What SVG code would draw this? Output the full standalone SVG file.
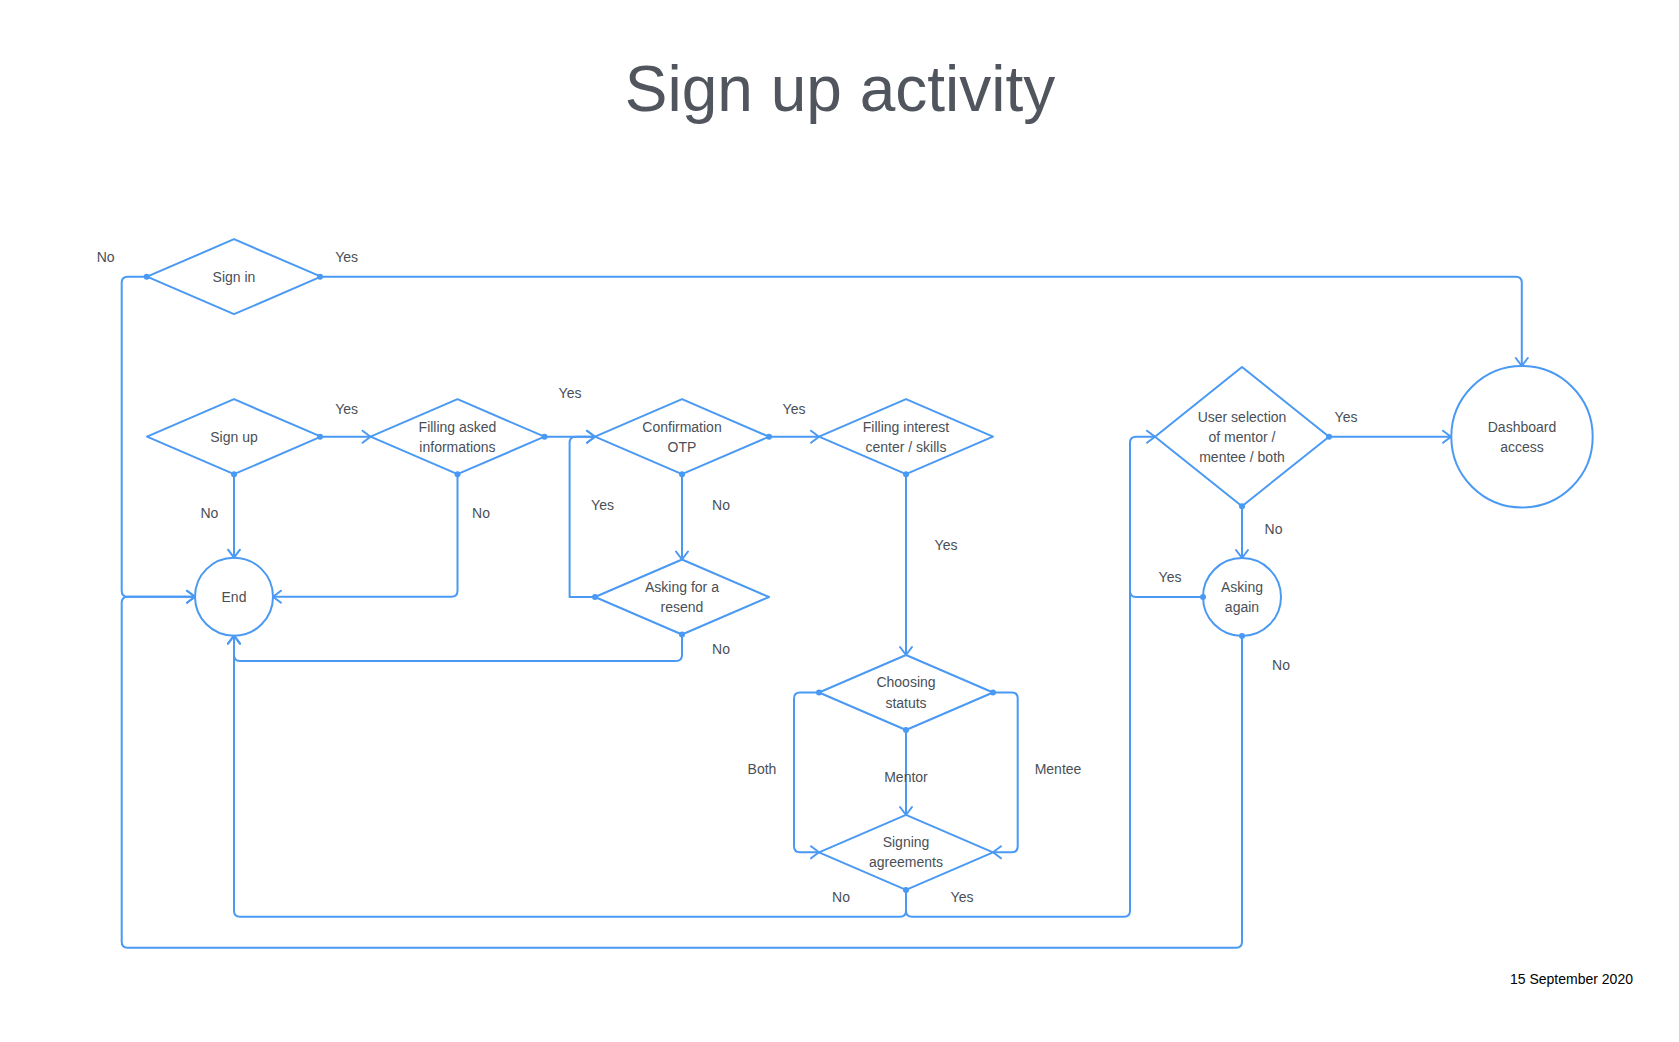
<svg xmlns="http://www.w3.org/2000/svg" width="1679" height="1042" viewBox="0 0 1679 1042">
<style>
.shape{fill:none;stroke:#4a99f3;stroke-width:2;stroke-linejoin:round}
.edge{fill:none;stroke:#4a99f3;stroke-width:2;stroke-linejoin:round}
.arr{marker-end:url(#arrow)}
.dot{fill:#4a99f3}
.t{font-family:"Liberation Sans",Arial,sans-serif;font-size:14px;fill:#4a4f57;text-anchor:middle}
.title{font-family:"Liberation Sans",Arial,sans-serif;font-size:64px;fill:#50555e;text-anchor:middle}
.date{font-family:"Liberation Sans",Arial,sans-serif;font-size:14px;fill:#000000;text-anchor:middle}
</style>
<defs>
<marker id="arrow" viewBox="-10 -8 12 16" refX="0" refY="0" markerWidth="12" markerHeight="16" markerUnits="userSpaceOnUse" orient="auto">
<path d="M-8,-6 L0,0 L-8,6" fill="none" stroke="#4a99f3" stroke-width="2" stroke-linejoin="round" stroke-linecap="round"/>
</marker>
</defs>
<rect width="1679" height="1042" fill="#ffffff"/>
<text class="title" x="840" y="111">Sign up activity</text>
<text class="date" x="1571.5" y="984">15 September 2020</text>

<g id="connectors">
<path class="edge arr" d="M320,276.7 H1515.8 Q1521.8,276.7 1521.8,282.7 V366"/>
<path class="edge arr" d="M146.7,276.7 H127.7 Q121.7,276.7 121.7,282.7 V590.7 Q121.7,596.7 127.7,596.7 H195"/>
<path class="edge arr" d="M320,436.7 H370.5"/>
<path class="edge arr" d="M234,474.3 V557.7"/>
<path class="edge arr" d="M457.5,474.3 V590.7 Q457.5,596.7 451.5,596.7 H273"/>
<path class="edge arr" d="M544.5,436.7 H595"/>
<path class="edge arr" d="M769,436.7 H819"/>
<path class="edge arr" d="M682,474.3 V559.5"/>
<path class="edge arr" d="M595,597 H569.6 V442.7 Q569.6,436.7 575.6,436.7 H595"/>
<path class="edge arr" d="M682,634.5 V655 Q682,661 676,661 H240 Q234,661 234,655 V635.7"/>
<path class="edge arr" d="M906,474.3 V655"/>
<path class="edge arr" d="M906,730 V815"/>
<path class="edge arr" d="M819,692.5 H800 Q794,692.5 794,698.5 V846.3 Q794,852.3 800,852.3 H819"/>
<path class="edge arr" d="M993,692.5 H1011.7 Q1017.7,692.5 1017.7,698.5 V846.3 Q1017.7,852.3 1011.7,852.3 H993"/>
<path class="edge arr" d="M906,890 V910.7 Q906,916.7 900,916.7 H240 Q234,916.7 234,910.7 V635.7"/>
<path class="edge arr" d="M906,890 V910.7 Q906,916.7 912,916.7 H1124 Q1130,916.7 1130,910.7 V442.7 Q1130,436.7 1136,436.7 H1155"/>
<path class="edge arr" d="M1329,436.7 H1451"/>
<path class="edge arr" d="M1242,506.2 V558"/>
<path class="edge" d="M1203,597 H1136 Q1130,597 1130,591 V442.7"/>
<path class="edge arr" d="M1242,636 V941.7 Q1242,947.7 1236,947.7 H127.7 Q121.7,947.7 121.7,941.7 V602.7 Q121.7,596.7 127.7,596.7 H195"/>
<text class="t" x="105.7" y="262">No</text>
<text class="t" x="346.7" y="262">Yes</text>
<text class="t" x="346.7" y="414">Yes</text>
<text class="t" x="209.4" y="518">No</text>
<text class="t" x="481" y="518">No</text>
<text class="t" x="570" y="398">Yes</text>
<text class="t" x="794" y="414">Yes</text>
<text class="t" x="602.5" y="510">Yes</text>
<text class="t" x="721" y="510">No</text>
<text class="t" x="721" y="654">No</text>
<text class="t" x="946" y="550">Yes</text>
<text class="t" x="762" y="774">Both</text>
<text class="t" x="906" y="782">Mentor</text>
<text class="t" x="1058" y="774">Mentee</text>
<text class="t" x="841" y="902">No</text>
<text class="t" x="962" y="902">Yes</text>
<text class="t" x="1346" y="422">Yes</text>
<text class="t" x="1273.5" y="534">No</text>
<text class="t" x="1170" y="582">Yes</text>
<text class="t" x="1281" y="670">No</text>
<circle class="dot" cx="320" cy="276.7" r="3"/>
<circle class="dot" cx="146.7" cy="276.7" r="3"/>
<circle class="dot" cx="320" cy="436.7" r="3"/>
<circle class="dot" cx="234" cy="474.3" r="3"/>
<circle class="dot" cx="457.5" cy="474.3" r="3"/>
<circle class="dot" cx="544.5" cy="436.7" r="3"/>
<circle class="dot" cx="769" cy="436.7" r="3"/>
<circle class="dot" cx="682" cy="474.3" r="3"/>
<circle class="dot" cx="595" cy="597" r="3"/>
<circle class="dot" cx="682" cy="634.5" r="3"/>
<circle class="dot" cx="906" cy="474.3" r="3"/>
<circle class="dot" cx="819" cy="692.5" r="3"/>
<circle class="dot" cx="993" cy="692.5" r="3"/>
<circle class="dot" cx="906" cy="730" r="3"/>
<circle class="dot" cx="906" cy="890" r="3"/>
<circle class="dot" cx="1329" cy="436.7" r="3"/>
<circle class="dot" cx="1242" cy="506.2" r="3"/>
<circle class="dot" cx="1203" cy="597" r="3"/>
<circle class="dot" cx="1242" cy="636" r="3"/>
</g>

<g id="node-signin">
<polygon class="shape" points="234,239.2 321,276.7 234,314.2 147,276.7"/>
<text class="t" x="234" y="281.7">Sign in</text>
</g>
<g id="node-signup">
<polygon class="shape" points="234,399.2 321,436.7 234,474.2 147,436.7"/>
<text class="t" x="234" y="441.7">Sign up</text>
</g>
<g id="node-filling-asked">
<polygon class="shape" points="457.5,399.2 544.5,436.7 457.5,474.2 370.5,436.7"/>
<text class="t" x="457.5" y="431.5">Filling asked</text>
<text class="t" x="457.5" y="451.8">informations</text>
</g>
<g id="node-otp">
<polygon class="shape" points="682,399.2 769,436.7 682,474.2 595,436.7"/>
<text class="t" x="682" y="431.5">Confirmation</text>
<text class="t" x="682" y="451.8">OTP</text>
</g>
<g id="node-interest">
<polygon class="shape" points="906,399.2 993,436.7 906,474.2 819,436.7"/>
<text class="t" x="906" y="431.5">Filling interest</text>
<text class="t" x="906" y="451.8">center / skills</text>
</g>
<g id="node-resend">
<polygon class="shape" points="682,559.5 769,597 682,634.5 595,597"/>
<text class="t" x="682" y="591.8">Asking for a</text>
<text class="t" x="682" y="612.1">resend</text>
</g>
<g id="node-end">
<circle class="shape" cx="234" cy="596.7" r="39"/>
<text class="t" x="234" y="601.7">End</text>
</g>
<g id="node-choosing">
<polygon class="shape" points="906,655 993,692.5 906,730 819,692.5"/>
<text class="t" x="906" y="687.3">Choosing</text>
<text class="t" x="906" y="707.6">statuts</text>
</g>
<g id="node-signing">
<polygon class="shape" points="906,814.8 993,852.3 906,889.8 819,852.3"/>
<text class="t" x="906" y="847.1">Signing</text>
<text class="t" x="906" y="867.4">agreements</text>
</g>
<g id="node-user-selection">
<polygon class="shape" points="1242,367 1329,436.7 1242,506.2 1155,436.7"/>
<text class="t" x="1242" y="421.5">User selection</text>
<text class="t" x="1242" y="441.8">of mentor /</text>
<text class="t" x="1242" y="462.1">mentee / both</text>
</g>
<g id="node-asking-again">
<circle class="shape" cx="1242" cy="597" r="39"/>
<text class="t" x="1242" y="591.8">Asking</text>
<text class="t" x="1242" y="612.1">again</text>
</g>
<g id="node-dashboard">
<circle class="shape" cx="1522" cy="436.7" r="70.7"/>
<text class="t" x="1522" y="431.5">Dashboard</text>
<text class="t" x="1522" y="451.8">access</text>
</g>
</svg>
